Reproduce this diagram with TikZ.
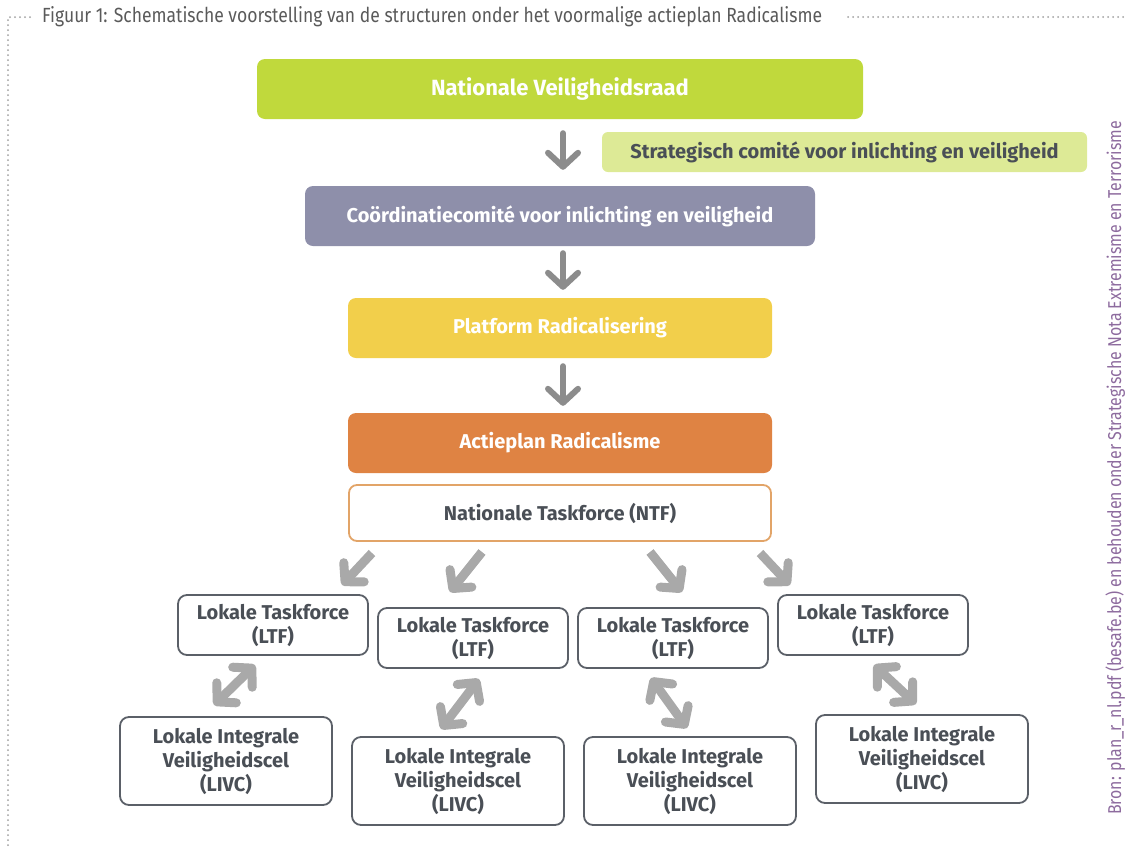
\documentclass[tikz,border=0pt]{standalone}
\usepackage{fontspec}
\setmainfont{Fira Sans}
\newfontfamily\figfont{Fira Sans}[FakeStretch=0.855]
\usetikzlibrary{arrows.meta}
\definecolor{limegreen}{HTML}{C0D93C}
\definecolor{palelime}{HTML}{DDEA96}
\definecolor{slatepurple}{HTML}{8E8FAA}
\definecolor{sunyellow}{HTML}{F2CF4B}
\definecolor{burntorange}{HTML}{DF8343}
\definecolor{ntfborder}{HTML}{E2A468}
\definecolor{boxline}{HTML}{5B6068}
\definecolor{boxtext}{HTML}{4A4F56}
\definecolor{arrowgray}{HTML}{8C8C8C}
\definecolor{arrowlight}{HTML}{A9A9A9}
\definecolor{captiongray}{HTML}{5A5A5A}
\definecolor{sourcepurple}{HTML}{8D6B9E}
\begin{document}
\begin{tikzpicture}[x=1pt,y=-1pt,
  filled/.style={rounded corners=8pt, minimum height=60pt, inner sep=0pt,
    font=\bfseries\fontsize{20}{23}\selectfont, text=white},
  ltfbox/.style={draw=boxline, line width=1.8pt, rounded corners=9pt, fill=white,
    minimum width=190pt, minimum height=60pt, inner sep=0pt, align=center,
    font=\bfseries\fontsize{20}{24}\selectfont, text=boxtext},
  livcbox/.style={ltfbox, minimum width=212pt, minimum height=88pt},
  downarrow/.style={draw=arrowgray, line width=6pt, line cap=round,
    -{Straight Barb[length=14pt, width=30pt, round]}},
  diagarrow/.style={draw=arrowlight, line width=9pt,
    -{Straight Barb[length=13pt, width=28pt, round]}},
  bothways/.style={draw=arrowlight, line width=9pt,
    {Straight Barb[length=13pt, width=28pt, round]}-{Straight Barb[length=13pt, width=28pt, round]}},
  dots/.style={draw=gray!75, line width=2pt, line cap=round, dash pattern=on 0pt off 5pt}
]
\useasboundingbox (0,0) rectangle (1125,847);

% caption and dotted frame
\node[anchor=west, inner sep=0pt, text=captiongray, font=\figfont\fontsize{20.5}{24}\selectfont]
  (caption) at (42,17) {Figuur 1: Schematische voorstelling van de structuren onder het voormalige actieplan Radicalisme};
\coordinate (dotstart) at (8,17);
\coordinate (dotmid) at (30,17);
\coordinate (dotright) at (848,17);
\coordinate (dotend) at (1123,17);
\coordinate (dotbottom) at (8,845);
\draw[dots] (dotmid) -- (dotstart) -- (dotbottom);
\draw[dots] (dotright) -- (dotend);

% source line
\node[rotate=90, anchor=base west, inner sep=0pt, text=sourcepurple,
  font=\figfont\fontsize{18.6}{20}\selectfont] (source) at (1121,815)
  {Bron: plan\_r\_nl.pdf (besafe.be) en behouden onder Strategische Nota Extremisme en Terrorisme};

% main chain
\node[filled, fill=limegreen, minimum width=606pt, font=\bfseries\fontsize{22}{25}\selectfont]
  (nvr) at (560,89) {\raisebox{-2pt}{Nationale Veiligheidsraad}};
\node[filled, fill=palelime, minimum width=485pt, minimum height=40pt, rounded corners=6pt,
  text=boxtext] (sciv) at (844.5,152) {Strategisch comité voor inlichting en veiligheid};
\node[filled, fill=slatepurple, minimum width=510pt] (cciv) at (560,216) {Coördinatiecomité voor inlichting en veiligheid};
\node[filled, fill=sunyellow, minimum width=424pt] (plat) at (560,328) {Platform Radicalisering};
\node[filled, fill=burntorange, minimum width=424pt] (act) at (560,443) {Actieplan Radicalisme};
\node[filled, fill=white, draw=ntfborder, line width=1.8pt, minimum width=422pt, minimum height=56pt,
  text=boxtext] (ntf) at (560,513) {Nationale Taskforce (NTF)};

\draw[downarrow, shorten <=14pt, shorten >=16pt] ([xshift=3pt]nvr.south) -- ([xshift=3pt]cciv.north);
\draw[downarrow, shorten <=7pt, shorten >=8pt] ([xshift=3pt]cciv.south) -- ([xshift=3pt]plat.north);
\draw[downarrow, shorten <=8pt, shorten >=7pt] ([xshift=3pt]plat.south) -- ([xshift=3pt]act.north);

% local task forces
\node[ltfbox] (ltf1) at (273,625) {Lokale Taskforce\\(LTF)};
\node[ltfbox] (ltf2) at (473,638) {Lokale Taskforce\\(LTF)};
\node[ltfbox] (ltf3) at (673,638) {Lokale Taskforce\\(LTF)};
\node[ltfbox] (ltf4) at (873,625) {Lokale Taskforce\\(LTF)};

% local integral safety cells
\node[livcbox] (livc1) at (226,761) {Lokale Integrale\\Veiligheidscel\\(LIVC)};
\node[livcbox] (livc2) at (458,781) {Lokale Integrale\\Veiligheidscel\\(LIVC)};
\node[livcbox] (livc3) at (690,781) {Lokale Integrale\\Veiligheidscel\\(LIVC)};
\node[livcbox] (livc4) at (922,759) {Lokale Integrale\\Veiligheidscel\\(LIVC)};

% arrows from the national to the local task forces
\coordinate (ntfa) at (372,553);
\coordinate (ltfa) at (342,585);
\coordinate (ntfb) at (482,552);
\coordinate (ltfb) at (450,592);
\coordinate (ntfc) at (650,552);
\coordinate (ltfc) at (682,592);
\coordinate (ntfd) at (760,553);
\coordinate (ltfd) at (790,585);
\draw[diagarrow] (ntfa) -- (ltfa);
\draw[diagarrow] (ntfb) -- (ltfb);
\draw[diagarrow] (ntfc) -- (ltfc);
\draw[diagarrow] (ntfd) -- (ltfd);

% two-way links between task forces and safety cells
\coordinate (ua) at (255,665);
\coordinate (la) at (214,705);
\coordinate (ub) at (479,679);
\coordinate (lb) at (441,729);
\coordinate (uc) at (651,678);
\coordinate (lc) at (687,728);
\coordinate (ud) at (874,665);
\coordinate (ld) at (916,704);
\draw[bothways] (ua) -- (la);
\draw[bothways] (ub) -- (lb);
\draw[bothways] (uc) -- (lc);
\draw[bothways] (ud) -- (ld);
\end{tikzpicture}
\end{document}
